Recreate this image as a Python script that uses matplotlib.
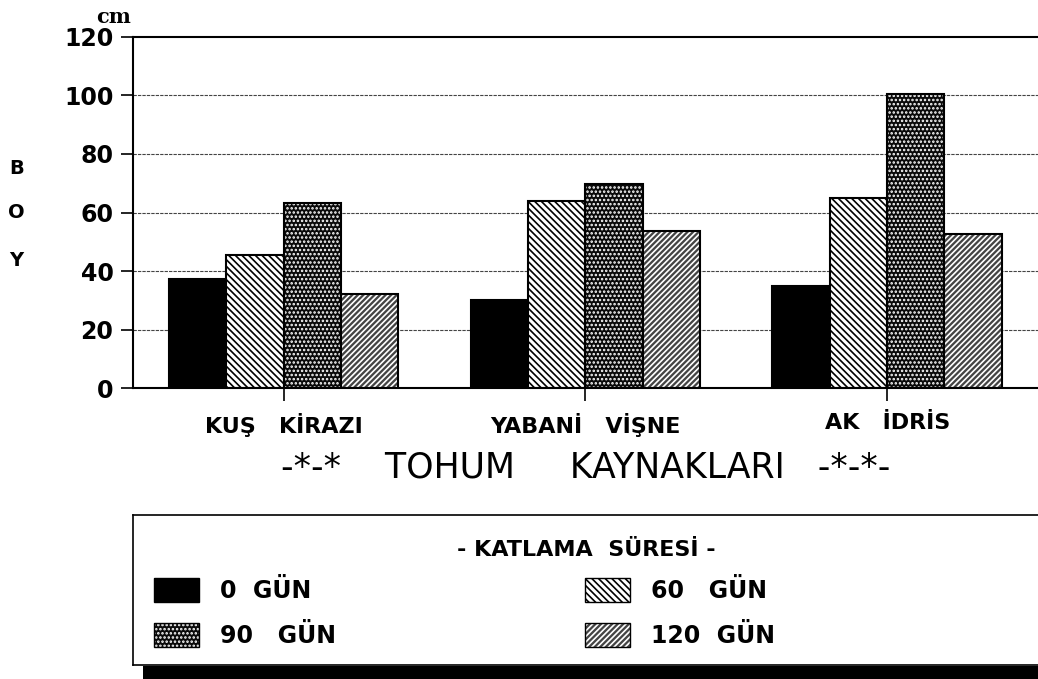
import numpy as np
import matplotlib
matplotlib.use('Agg')
from matplotlib import pyplot as plt
from matplotlib.patches import Rectangle

categories = ['KUŞ   KİRAZI', 'YABANİ   VİŞNE', 'AK   İDRİS']
series_names = ['0  GÜN', '60   GÜN', '90   GÜN', '120  GÜN']
gun_0 = [37.4, 30.1, 35.0]
gun_60 = [45.4, 64.0, 64.8]
gun_90 = [63.1, 69.6, 100.4]
gun_120 = [32.3, 53.8, 52.6]
y_ticks = [0, 20, 40, 60, 80, 100, 120]

plt.rcParams['font.family'] = ['DejaVu Sans']
plt.rcParams['hatch.linewidth'] = 1.2

fig = plt.figure(figsize=(10.38, 6.79), dpi=100)
ax = fig.add_axes([0.128, 0.428, 0.872, 0.518])

x = np.arange(len(categories))
w = 0.19
# (face, hatch colour, hatch)
styles = [
    ('black', 'black', None),
    ('white', 'black', '\\\\\\\\\\'),
    ('#0a0a0a', 'white', '....'),
    ('#444444', 'white', '//////'),
]
all_vals = [gun_0, gun_60, gun_90, gun_120]
for i, vals in enumerate(all_vals):
    fc, hc, h = styles[i]
    bars = ax.bar(x + (i - 1.5) * w, vals, w, facecolor=fc, edgecolor=hc, hatch=h, linewidth=0)
    for r in bars:
        ax.add_patch(Rectangle(r.get_xy(), r.get_width(), r.get_height(),
                               fill=False, edgecolor='black', linewidth=1.5))

ax.set_xlim(-0.5, 2.5)
ax.set_ylim(0, 120)
ax.set_yticks(y_ticks)
ax.set_yticklabels([str(v) for v in y_ticks], fontsize=17, fontweight='bold')
ax.set_xticks(x)
ax.set_xticklabels(categories, fontsize=16, fontweight='bold')
ax.tick_params(axis='y', length=9, width=1.2, pad=5)
ax.tick_params(axis='x', length=9, width=1.2, pad=9)
for yv in y_ticks[1:-1]:
    ax.axhline(yv, color='#444444', linewidth=0.8, linestyle=(0, (3, 1)), zorder=0)
ax.spines['right'].set_visible(False)
for s in ['left', 'top', 'bottom']:
    ax.spines[s].set_linewidth(1.5)

fig.text(0.109, 0.975, 'cm', fontsize=15, family='DejaVu Serif', fontweight='bold', ha='center', va='center')
for t, yy in zip(['B', 'O', 'Y'], [169, 213, 261]):
    fig.text(0.016, 1 - yy / 679, t, fontsize=14, fontweight='bold', ha='center', va='center')

fig.text(0.5645, 1 - 468 / 679, '-*-*    TOHUM     KAYNAKLARI   -*-*-', fontsize=25, ha='center', va='center')

# legend box
lax = fig.add_axes([0.128, 0.0206, 0.872, 0.221])
lax.set_xlim(0, 1)
lax.set_ylim(0, 1)
lax.set_xticks([])
lax.set_yticks([])
lax.spines['right'].set_visible(False)
for s in ['left', 'top', 'bottom']:
    lax.spines[s].set_linewidth(1.2)
fig.patches.append(Rectangle((0.138, 0.0), 0.862, 0.019, transform=fig.transFigure,
                             facecolor='black', edgecolor='none'))
lax.text(0.5005, 0.767, '- KATLAMA  SÜRESİ -', fontsize=16, fontweight='bold', ha='center', va='center')
pos = [(0.023, 0.42), (0.4995, 0.42), (0.023, 0.12), (0.4995, 0.12)]
for i, (px, py) in enumerate(pos):
    fc, hc, h = styles[i]
    lax.add_patch(Rectangle((px, py), 0.05, 0.16, facecolor=fc, edgecolor=hc, hatch=h, linewidth=0))
    lax.add_patch(Rectangle((px, py), 0.05, 0.16, fill=False, edgecolor='black', linewidth=1.0))
    lax.text(px + 0.073, py + 0.075, series_names[i], fontsize=17, fontweight='bold', va='center')

fig.savefig('out.png', dpi=100)
